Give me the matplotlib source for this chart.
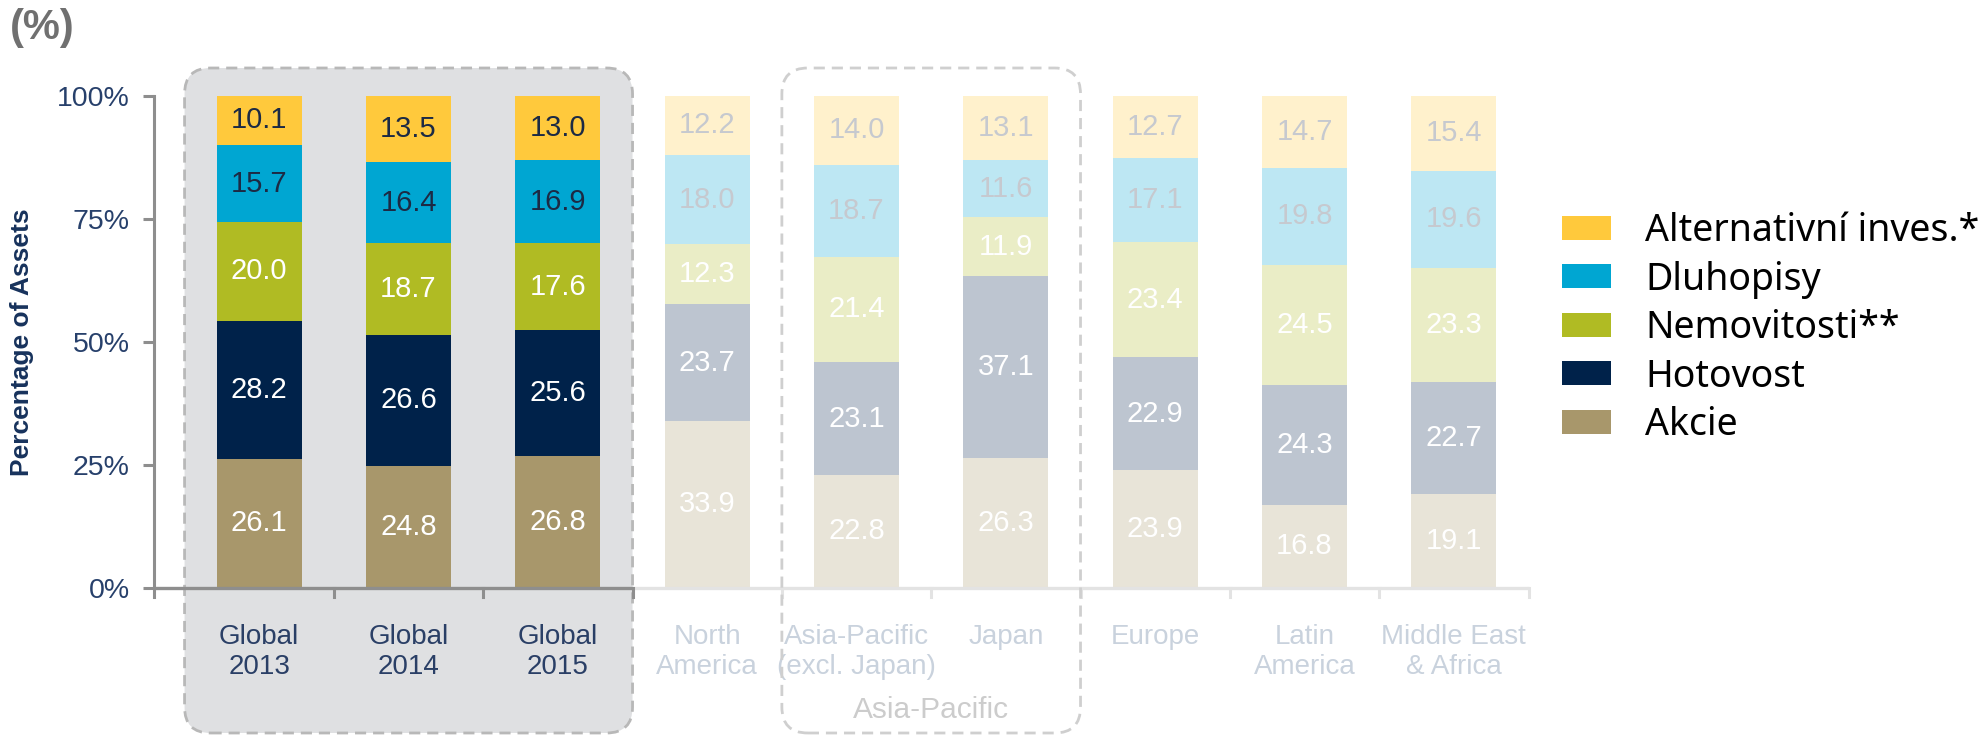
import numpy as np
import matplotlib
matplotlib.use("Agg")
import matplotlib.pyplot as plt
from matplotlib.patches import FancyBboxPatch, Patch
from matplotlib.transforms import IdentityTransform

# data
categories = ["Global\n2013", "Global\n2014", "Global\n2015", "North\nAmerica",
              "Asia-Pacific\n(excl. Japan)", "Japan", "Europe", "Latin\nAmerica",
              "Middle East\n& Africa"]
series = ["Akcie", "Hotovost", "Nemovitosti**", "Dluhopisy", "Alternativní inves.*"]
akcie = [26.1, 24.8, 26.8, 33.9, 22.8, 26.3, 23.9, 16.8, 19.1]
hotovost = [28.2, 26.6, 25.6, 23.7, 23.1, 37.1, 22.9, 24.3, 22.7]
nemovitosti = [20.0, 18.7, 17.6, 12.3, 21.4, 11.9, 23.4, 24.5, 23.3]
dluhopisy = [15.7, 16.4, 16.9, 18.0, 18.7, 11.6, 17.1, 19.8, 19.6]
alternativni = [10.1, 13.5, 13.0, 12.2, 14.0, 13.1, 12.7, 14.7, 15.4]
yticks = [0, 25, 50, 75, 100]
n_global = 3

colors = ["#a8976b", "#00224a", "#b0bb23", "#00a6d2", "#ffc93c"]
dark_text = [False, False, False, True, True]
FADE = 0.26
AXIS_DARK = "#8e8e8e"
AXIS_LIGHT = "#e3e3e3"
TICK_COLOR = "#27406b"

plt.rcParams["font.family"] = ["Liberation Sans", "DejaVu Sans"]

W, H = 1983, 738
fig = plt.figure(figsize=(W / 100, H / 100), dpi=100)
ax = fig.add_axes([153.5 / W, 150.5 / H, (1530 - 153.5) / W, 491.5 / H])
ax.set_zorder(1)
ax.patch.set_visible(False)

x = np.arange(len(categories))
values = [akcie, hotovost, nemovitosti, dluhopisy, alternativni]
bottom = np.zeros(len(categories))
for vals, col, dark in zip(values, colors, dark_text):
    vals = np.array(vals)
    for i in range(len(categories)):
        faded = i >= n_global
        ax.bar(x[i], vals[i], bottom=bottom[i], width=0.57, color=col,
               alpha=FADE if faded else 1.0, linewidth=0, zorder=2)
        if dark:
            tc = "#c6c9cf" if faded else "#1c2a44"
        else:
            tc = "white"
        ax.text(x[i], bottom[i] + vals[i] / 2, f"{vals[i]:.1f}", ha="center",
                va="center", fontsize=21, color=tc, zorder=3)
    bottom += vals

xmin = -0.708
ax.set_xlim(xmin, 8.51)
ax.set_ylim(0, 100)

# axes styling
for s in ax.spines.values():
    s.set_visible(False)
ax.set_yticks(yticks)
ax.set_yticklabels([f"{v}%" for v in yticks], fontsize=20.5, color=TICK_COLOR)
ax.tick_params(axis="y", length=8, width=2.2, color=AXIS_DARK, pad=9)
ax.set_ylabel("Percentage of Assets", fontsize=19, fontweight="bold", color="#17325c")
ax.yaxis.label.set_va("center")
ax.yaxis.set_label_coords((22 - 153.5) / (1530 - 153.5), 0.5)

ax.set_xticks(x)
ax.set_xticklabels(categories, fontsize=20)
ax.tick_params(axis="x", length=0, pad=26)
for i, lab in enumerate(ax.get_xticklabels()):
    lab.set_color("#2a3f66" if i < n_global else "#c9d2dd")

# y axis line and x axis line drawn by hand (two shades)
ax.plot([xmin, xmin], [-2.0, 100], color=AXIS_DARK, lw=2.2, clip_on=False, zorder=4)
ax.plot([xmin, 2.5], [0, 0], color=AXIS_DARK, lw=2.4, clip_on=False, zorder=4,
        solid_capstyle="butt")
ax.plot([2.5, 8.5], [0, 0], color=AXIS_LIGHT, lw=2.4, clip_on=False, zorder=4,
        solid_capstyle="butt")
for b in np.arange(0.5, 8.6, 1.0):
    c = AXIS_DARK if b < n_global else AXIS_LIGHT
    ax.plot([b, b], [0, -2.0], color=c, lw=2.2, clip_on=False, zorder=4)

ax.text(4.5, -24.9, "Asia-Pacific", ha="center", va="center", fontsize=21.5,
        color="#cccccc")

# group boxes in pixel space
fig.canvas.draw()
def px_box(x0, x1, y0, y1, **kw):
    (px0, _), (px1, _) = ax.transData.transform([(x0, 0), (x1, 0)])
    return FancyBboxPatch((px0, H - y1), px1 - px0, y1 - y0,
                          boxstyle="round,pad=0,rounding_size=26",
                          transform=IdentityTransform(), **kw)

gbox = px_box(-0.5, 2.5, 68, 733, facecolor="#dfe0e2", edgecolor="#b8b8b8",
              linestyle=(0, (4, 2.5)), linewidth=2, zorder=0.5)
fig.add_artist(gbox)
abox = px_box(3.5, 5.5, 68, 733, facecolor="none", edgecolor="#cfcfcf",
              linestyle=(0, (4, 2.5)), linewidth=2, zorder=2)
fig.add_artist(abox)

fig.text(10 / W, 1 - 28 / H, "(%)", fontsize=30, fontweight="bold",
         color="#707070", ha="left", va="center")

handles = [Patch(facecolor=c, edgecolor="none") for c in colors][::-1]
fig.legend(handles, series[::-1], loc="upper left",
           bbox_to_anchor=(1561.8 / W, 0.7127), frameon=False, borderpad=0,
           borderaxespad=0, handlelength=1.3, handleheight=0.61,
           handletextpad=0.92, labelspacing=0.28,
           prop={"family": "Noto Sans", "size": 27})

fig.savefig("out.png", dpi=100)
